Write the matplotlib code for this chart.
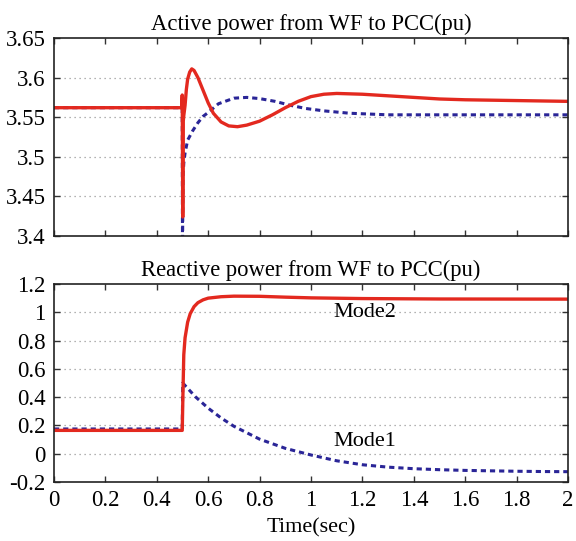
import matplotlib
matplotlib.use("Agg")
import matplotlib.pyplot as plt

plt.rcParams['font.family'] = ['Liberation Serif', 'DejaVu Serif']
plt.rcParams['axes.unicode_minus'] = False

RED = '#e3291f'
BLUE = '#2a2597'

# Active power, Mode2 (solid red)
p2_t = [0.0, 0.497, 0.499, 0.501, 0.503, 0.505, 0.51, 0.515, 0.52, 0.528, 0.536, 0.545,
        0.56, 0.58, 0.60, 0.62, 0.65, 0.68, 0.714, 0.75, 0.80, 0.85, 0.90, 0.95,
        1.0, 1.05, 1.1, 1.2, 1.3, 1.4, 1.5, 1.6, 1.8, 2.0]
p2_v = [3.562, 3.562, 3.578, 3.424, 3.545, 3.552, 3.565, 3.585, 3.598, 3.607, 3.611, 3.609,
        3.600, 3.584, 3.568, 3.555, 3.544, 3.539, 3.538, 3.540, 3.545, 3.553, 3.562, 3.570,
        3.576, 3.579, 3.580, 3.579, 3.577, 3.575, 3.573, 3.572, 3.571, 3.570]

# Active power, Mode1 (dashed blue)
p1_t = [0.0, 0.499, 0.500, 0.502, 0.505, 0.51, 0.52, 0.54, 0.56, 0.58, 0.60, 0.64,
        0.70, 0.75, 0.80, 0.86, 0.92, 0.98, 1.05, 1.15, 1.3, 1.5, 2.0]
p1_v = [3.562, 3.562, 3.38, 3.475, 3.492, 3.505, 3.521, 3.533, 3.543, 3.551, 3.556, 3.567,
        3.574, 3.575, 3.5735, 3.570, 3.565, 3.561, 3.558, 3.555, 3.553, 3.553, 3.553]

# Reactive power, Mode2 (solid red)
q2_t = [0.0, 0.499, 0.502, 0.505, 0.51, 0.52, 0.53, 0.545, 0.56, 0.58, 0.60, 0.65,
        0.70, 0.80, 0.90, 1.0, 1.2, 1.5, 2.0]
q2_v = [0.165, 0.165, 0.45, 0.70, 0.82, 0.93, 0.99, 1.04, 1.068, 1.088, 1.10, 1.11,
        1.114, 1.113, 1.107, 1.102, 1.097, 1.094, 1.093]

# Reactive power, Mode1 (dashed blue)
q1_t = [0.0, 0.499, 0.501, 0.55, 0.60, 0.65, 0.70, 0.80, 0.90, 1.0, 1.1, 1.2,
        1.3, 1.4, 1.5, 1.6, 1.7, 1.8, 1.9, 2.0]
q1_v = [0.175, 0.175, 0.50, 0.403, 0.322, 0.253, 0.194, 0.103, 0.038, -0.009, -0.05, -0.078,
        -0.095, -0.106, -0.113, -0.118, -0.121, -0.124, -0.126, -0.127]

x_ticks = [0, 0.2, 0.4, 0.6, 0.8, 1.0, 1.2, 1.4, 1.6, 1.8, 2.0]
x_labels = ['0', '0.2', '0.4', '0.6', '0.8', '1', '1.2', '1.4', '1.6', '1.8', '2']
p_ticks = [3.4, 3.45, 3.5, 3.55, 3.6, 3.65]
p_labels = ['3.4', '3.45', '3.5', '3.55', '3.6', '3.65']
q_ticks = [-0.2, 0, 0.2, 0.4, 0.6, 0.8, 1.0, 1.2]
q_labels = ['-0.2', '0', '0.2', '0.4', '0.6', '0.8', '1', '1.2']

fig = plt.figure(figsize=(5.76, 5.41), dpi=100)
ax1 = fig.add_axes([54 / 576, 1 - 236 / 541, 514 / 576, 198 / 541])
ax2 = fig.add_axes([54 / 576, 1 - 482 / 541, 514 / 576, 198 / 541])

DASH = (0, (1.7, 1.3))


def style(ax, yticks, ylabels, ylim):
    ax.set_xlim(0, 2)
    ax.set_ylim(*ylim)
    ax.set_xticks(x_ticks)
    ax.set_yticks(yticks)
    ax.set_yticklabels(ylabels)
    ax.tick_params(direction='in', length=4, width=1, top=True, right=True,
                   labelsize=16.5, pad=6, color='#333333')
    for s in ax.spines.values():
        s.set_linewidth(1.2)
        s.set_color('#222222')
    for y in yticks[1:-1]:
        ax.axhline(y, color='#999999', lw=0.9, ls=(0, (1, 3)), zorder=0)


ax1.plot(p1_t, p1_v, color=BLUE, lw=2.2, ls=DASH)
ax1.plot(p2_t, p2_v, color=RED, lw=2.4)
style(ax1, p_ticks, p_labels, (3.4, 3.65))
ax1.set_xticklabels([])
ax1.set_title('Active power from WF to PCC(pu)', fontsize=16.3, pad=6)

ax2.plot(q1_t, q1_v, color=BLUE, lw=2.2, ls=DASH)
ax2.plot(q2_t, q2_v, color=RED, lw=2.4)
style(ax2, q_ticks, q_labels, (-0.2, 1.2))
ax2.set_xticklabels(x_labels)
ax2.set_title('Reactive power from WF to PCC(pu)', fontsize=16.3, pad=6)
ax2.set_xlabel('Time(sec)', fontsize=16, labelpad=5)
ax2.text(1.086, 0.995, 'Mode2', fontsize=16, va='center', ha='left')
ax2.text(1.086, 0.085, 'Mode1', fontsize=16, va='center', ha='left')

fig.savefig('out.png', dpi=100)
